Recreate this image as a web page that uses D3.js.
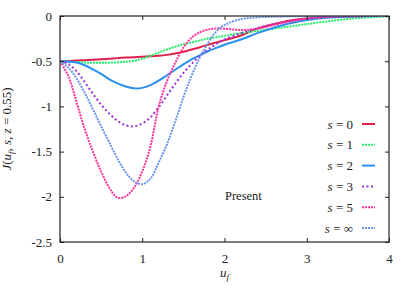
<!DOCTYPE html>
<html>
<head>
<meta charset="utf-8">
<script src="https://cdn.jsdelivr.net/npm/d3@7"></script>
<style>
  body { margin: 0; background: #fff; }
  svg text { font-family: "Liberation Serif", "DejaVu Serif", serif !important; fill: #222; }
</style>
</head>
<body>
<div id="chart"></div>
<script>
// u_f sample points
var uf = [0, 0.1, 0.2, 0.3, 0.4, 0.5, 0.6, 0.7, 0.8, 0.9, 1.0, 1.1, 1.2, 1.3, 1.4, 1.5, 1.6, 1.7, 1.8, 1.9, 2.0, 2.2, 2.4, 2.6, 2.8, 3.0, 3.25, 3.5, 3.75, 4.0];

// J values, one array per s
var s0 = [-0.50, -0.497, -0.493, -0.489, -0.484, -0.478, -0.472, -0.466, -0.46, -0.455, -0.45, -0.446, -0.44, -0.43, -0.415, -0.395, -0.37, -0.345, -0.318, -0.292, -0.267, -0.215, -0.14, -0.09, -0.05, -0.028, -0.012, -0.004, -0.001, 0];
var s1 = [-0.50, -0.505, -0.51, -0.515, -0.518, -0.518, -0.516, -0.512, -0.505, -0.495, -0.472, -0.44, -0.405, -0.37, -0.34, -0.315, -0.292, -0.27, -0.25, -0.235, -0.22, -0.19, -0.165, -0.14, -0.115, -0.09, -0.06, -0.033, -0.015, -0.005];
var s2 = [-0.50, -0.505, -0.515, -0.545, -0.59, -0.64, -0.70, -0.745, -0.78, -0.80, -0.795, -0.765, -0.715, -0.655, -0.595, -0.535, -0.48, -0.435, -0.39, -0.352, -0.318, -0.26, -0.19, -0.13, -0.08, -0.045, -0.02, -0.007, -0.002, 0];
var s3 = [-0.50, -0.53, -0.61, -0.73, -0.86, -0.98, -1.08, -1.16, -1.21, -1.22, -1.19, -1.12, -1.01, -0.88, -0.75, -0.63, -0.53, -0.44, -0.37, -0.31, -0.26, -0.19, -0.135, -0.09, -0.055, -0.03, -0.012, -0.004, -0.001, 0];
var s5 = [-0.50, -0.66, -0.95, -1.25, -1.50, -1.72, -1.90, -2.01, -1.995, -1.90, -1.72, -1.44, -1.0, -0.72, -0.52, -0.35, -0.24, -0.18, -0.15, -0.138, -0.14, -0.155, -0.14, -0.10, -0.06, -0.03, -0.01, -0.003, -0.001, 0];
var sInf = [-0.50, -0.57, -0.69, -0.85, -1.03, -1.22, -1.40, -1.58, -1.73, -1.83, -1.86, -1.80, -1.62, -1.42, -1.17, -0.90, -0.66, -0.46, -0.30, -0.17, -0.10, -0.035, -0.015, -0.008, -0.004, -0.002, -0.001, 0, 0, 0];

var xTicks = [0, 1, 2, 3, 4];
var yTicks = [0, -0.5, -1, -1.5, -2, -2.5];

var series = [
  {label: "0", values: s0, color: "#e0204c", dash: null},
  {label: "1", values: s1, color: "#22ee66", dash: "2,1"},
  {label: "2", values: s2, color: "#2b8ff0", dash: null},
  {label: "3", values: s3, color: "#9933dd", dash: "2,2.5"},
  {label: "5", values: s5, color: "#ff3399", dash: "2,1"},
  {label: "\u221e", values: sInf, color: "#6a96ea", dash: "2,1"}
];

var margin = {top: 16, right: 26, bottom: 49, left: 60},
    width = 415 - margin.left - margin.right,
    height = 291 - margin.top - margin.bottom;

var x = d3.scaleLinear().domain([0, 4]).range([0, width]);
var y = d3.scaleLinear().domain([-2.5, 0]).range([height, 0]);

var svg = d3.select("#chart").append("svg")
    .attr("width", 415)
    .attr("height", 291)
  .append("g")
    .attr("transform", "translate(" + margin.left + "," + margin.top + ")");

// curves
var line = d3.line()
    .x(function(d) { return x(d[0]); })
    .y(function(d) { return y(d[1]); })
    .curve(d3.curveCatmullRom.alpha(0.5));

svg.append("defs").append("clipPath").attr("id", "clip")
  .append("rect").attr("width", width).attr("height", height);

series.forEach(function(s) {
  svg.append("path")
      .attr("clip-path", "url(#clip)")
      .attr("d", line(uf.map(function(u, i) { return [u, s.values[i]]; })))
      .attr("fill", "none")
      .attr("stroke", s.color)
      .attr("stroke-width", 2)
      .attr("stroke-dasharray", s.dash);
});

// axes with inward ticks, mirrored
function styleAxis(g) {
  g.attr("font-family", null);
  g.select(".domain").remove();
  g.selectAll("line").attr("stroke", "#222");
  g.selectAll("text").style("font-size", "13px")
    .style("font-family", "'Liberation Serif', 'DejaVu Serif', serif").attr("fill", "#222");
}

svg.append("g")
    .attr("transform", "translate(0," + height + ")")
    .call(d3.axisBottom(x).tickValues(xTicks).tickFormat(d3.format("d")).tickSizeInner(-4).tickPadding(12))
    .call(styleAxis);
svg.append("g")
    .call(d3.axisTop(x).tickValues(xTicks).tickSizeInner(-4).tickFormat(""))
    .call(styleAxis);
svg.append("g")
    .call(d3.axisLeft(y).tickValues(yTicks).tickFormat(function(d) { return d === 0 ? "0" : d; }).tickSizeInner(-4).tickPadding(8))
    .call(styleAxis);
svg.append("g")
    .attr("transform", "translate(" + width + ",0)")
    .call(d3.axisRight(y).tickValues(yTicks).tickSizeInner(-4).tickFormat(""))
    .call(styleAxis);

svg.append("rect")
    .attr("width", width).attr("height", height)
    .attr("fill", "none").attr("stroke", "#222").attr("stroke-width", 1.2);

// legend
var leg = svg.append("g").attr("transform", "translate(" + (width - 36) + "," + (124 - margin.top) + ")");
series.forEach(function(s, i) {
  var row = leg.append("g").attr("transform", "translate(0," + (i * 20.8) + ")");
  var t = row.append("text").attr("text-anchor", "end").attr("dy", "0.35em").style("font-size", "13px");
  t.append("tspan").style("font-style", "italic").text("s");
  t.append("tspan").text(" = " + s.label);
  row.append("line")
      .attr("x1", 9).attr("x2", 22)
      .attr("stroke", s.color).attr("stroke-width", 2)
      .attr("stroke-dasharray", s.dash);
});

svg.append("text")
    .attr("x", 225 - margin.left).attr("y", 200 - margin.top)
    .style("font-size", "12.5px")
    .text("Present");

// axis labels
var xl = svg.append("text")
    .attr("text-anchor", "middle")
    .attr("x", width / 2).attr("y", height + 35)
    .style("font-size", "13px");
xl.append("tspan").style("font-style", "italic").text("u");
xl.append("tspan").style("font-style", "italic").style("font-size", "9px").attr("dy", 3).text("f");

var yl = svg.append("text")
    .attr("text-anchor", "middle")
    .attr("transform", "translate(" + (-49) + "," + (height / 2) + ") rotate(-90)")
    .style("font-size", "13px");
yl.append("tspan").style("font-style", "italic").text("J");
yl.append("tspan").text("(");
yl.append("tspan").style("font-style", "italic").text("u");
yl.append("tspan").style("font-style", "italic").style("font-size", "9px").attr("dy", 3).text("f");
yl.append("tspan").attr("dy", -3).text(", ");
yl.append("tspan").style("font-style", "italic").text("s");
yl.append("tspan").text(", ");
yl.append("tspan").style("font-style", "italic").text("z");
yl.append("tspan").text(" = 0.55)");
</script>
</body>
</html>
